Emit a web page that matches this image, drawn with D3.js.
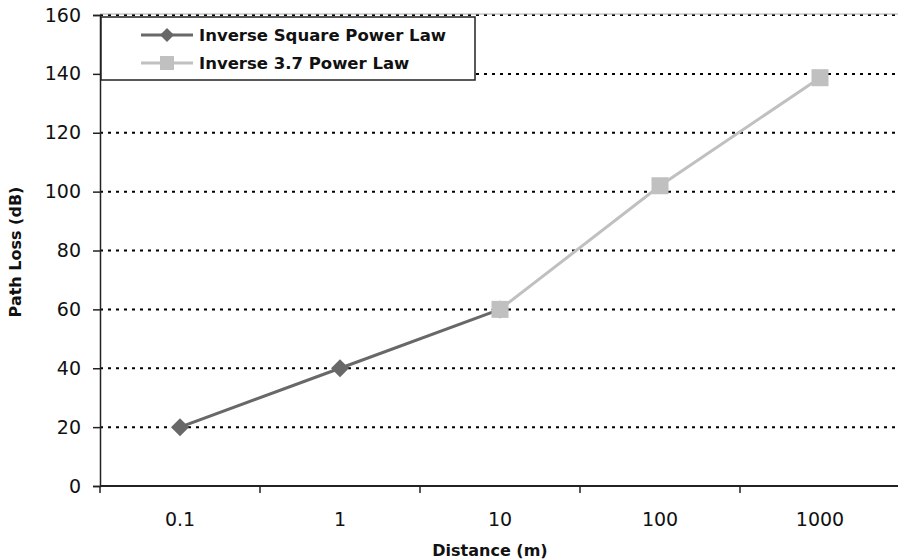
<!DOCTYPE html>
<html><head><meta charset="utf-8">
<script src="https://cdn.jsdelivr.net/npm/d3@7/dist/d3.min.js"></script>
<style>body{margin:0;background:#fff}svg{display:block}</style>
</head><body>
<svg id="c" width="898" height="560"></svg>
<script>
const categories = ["0.1", "1", "10", "100", "1000"];
const inverseSquare = [20, 40, 60, null, null];
const inverse37 = [null, null, 60, 102, 138.7];
const yTicks = [0, 20, 40, 60, 80, 100, 120, 140, 160];
const seriesNames = ["Inverse Square Power Law", "Inverse 3.7 Power Law"];

const font = "'Comic Sans MS','DejaVu Sans',sans-serif";
const svg = d3.select("#c");
const L = 100, R = 900, T = 15, B = 486;
const x = d3.scaleBand().domain(categories).range([L, R]);
const y = d3.scaleLinear().domain([0, 160]).range([B, T]);

// gridlines
svg.append("g").selectAll("line").data(yTicks.filter(d => d > 0)).join("line")
  .attr("x1", L).attr("x2", 898).attr("y1", d => y(d)).attr("y2", d => y(d))
  .attr("stroke", "#000").attr("stroke-width", 2).attr("stroke-dasharray", "3,5");
svg.append("line").attr("x1", L).attr("x2", 898).attr("y1", y(160) - 1).attr("y2", y(160) - 1)
  .attr("stroke", "#aaa").attr("stroke-width", 1);

// y axis
const ya = svg.append("g").attr("transform", `translate(${L},0)`)
  .call(d3.axisLeft(y).tickValues(yTicks).tickSize(7).tickPadding(12));
ya.select(".domain").attr("stroke", "#222").attr("stroke-width", 1.5);
ya.selectAll(".tick line").attr("stroke", "#222").attr("stroke-width", 1.5);
ya.selectAll("text").attr("font-family", font).attr("font-size", 19).attr("fill", "#111");

// x axis
const xa = svg.append("g").attr("transform", `translate(0,${B})`)
  .call(d3.axisBottom(x).tickSize(0).tickPadding(27));
xa.select(".domain").remove();
svg.append("line").attr("x1", L).attr("x2", 898).attr("y1", B).attr("y2", B)
  .attr("stroke", "#222").attr("stroke-width", 2);
svg.append("g").selectAll("line").data(categories.concat(["end"])).join("line")
  .attr("x1", (d, i) => L + i * x.bandwidth()).attr("x2", (d, i) => L + i * x.bandwidth())
  .attr("y1", B).attr("y2", B + 7).attr("stroke", "#222").attr("stroke-width", 1.5);
xa.selectAll("text").attr("font-family", font).attr("font-size", 19).attr("fill", "#111");

// axis titles
svg.append("text").attr("x", 490).attr("y", 556).attr("text-anchor", "middle")
  .attr("font-family", font).attr("font-size", 16).attr("font-weight", "bold").attr("fill", "#111")
  .text("Distance (m)");
svg.append("text").attr("transform", "translate(21,252) rotate(-90)").attr("text-anchor", "middle")
  .attr("font-family", font).attr("font-size", 16).attr("font-weight", "bold").attr("fill", "#111")
  .text("Path Loss (dB)");

const cx = d => x(d) + x.bandwidth() / 2;
const colors = ["#686868", "#c0c0c1"];
const line = vals => d3.line().defined((d, i) => vals[i] != null)
  .x((d, i) => cx(categories[i])).y((d, i) => y(vals[i]))(vals);

svg.append("path").attr("d", line(inverseSquare)).attr("fill", "none")
  .attr("stroke", colors[0]).attr("stroke-width", 3);
svg.append("path").attr("d", line(inverse37)).attr("fill", "none")
  .attr("stroke", colors[1]).attr("stroke-width", 3);

svg.append("g").selectAll("path").data(categories.map((c, i) => [c, inverseSquare[i]]).filter(d => d[1] != null))
  .join("path").attr("transform", d => `translate(${cx(d[0])},${y(d[1])})`)
  .attr("d", "M0,-9L9,0L0,9L-9,0Z").attr("fill", colors[0]);
svg.append("g").selectAll("rect").data(categories.map((c, i) => [c, inverse37[i]]).filter(d => d[1] != null))
  .join("rect").attr("x", d => cx(d[0]) - 8.5).attr("y", d => y(d[1]) - 8.5)
  .attr("width", 17).attr("height", 17).attr("fill", colors[1]);

// legend
const lg = svg.append("g");
lg.append("rect").attr("x", 101).attr("y", 17).attr("width", 374).attr("height", 63)
  .attr("fill", "#fff").attr("stroke", "#222").attr("stroke-width", 1.5);
seriesNames.forEach((n, i) => {
  const yy = 35 + i * 28;
  lg.append("line").attr("x1", 141).attr("x2", 193).attr("y1", yy).attr("y2", yy)
    .attr("stroke", colors[i]).attr("stroke-width", 3);
  if (i === 0) lg.append("path").attr("transform", `translate(167,${yy})`).attr("d", "M0,-7L7,0L0,7L-7,0Z").attr("fill", colors[0]);
  else lg.append("rect").attr("x", 160).attr("y", yy - 7).attr("width", 14).attr("height", 14).attr("fill", colors[1]);
  lg.append("text").attr("x", 199).attr("y", yy + 6).attr("font-family", font).attr("font-size", 16.5)
    .attr("font-weight", "bold").attr("fill", "#111").text(n);
});
</script>
</body></html>
